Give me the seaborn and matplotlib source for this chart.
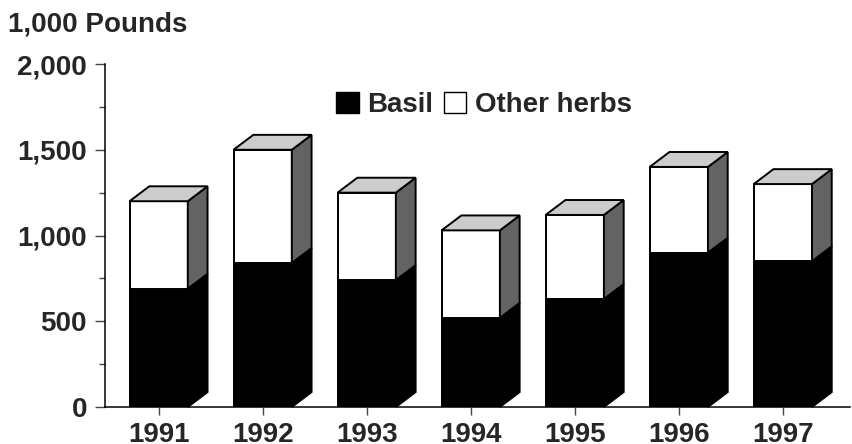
import matplotlib
matplotlib.use("Agg")
import matplotlib.pyplot as plt
import pandas as pd
import seaborn as sns
from matplotlib.patches import Polygon, Patch
from matplotlib.ticker import FuncFormatter, MultipleLocator

# data (1,000 pounds)
years = ["1991", "1992", "1993", "1994", "1995", "1996", "1997"]
basil = [690, 840, 740, 520, 630, 900, 850]
total = [1200, 1500, 1250, 1030, 1120, 1400, 1300]

df = pd.DataFrame({"year": years, "basil": basil, "total": total})

sns.set_style("white")
plt.rcParams["font.family"] = ["Liberation Sans", "DejaVu Sans"]
plt.rcParams["font.weight"] = "bold"

fig = plt.figure(figsize=(8.52, 4.44), dpi=100)
ax = fig.add_axes([0.1232, 0.0833, 0.875, 0.7725])

bw = 0.56
sns.barplot(data=df, x="year", y="total", color="white", edgecolor="black",
            linewidth=1.4, width=bw, errorbar=None, saturation=1, ax=ax)
sns.barplot(data=df, x="year", y="basil", color="black", edgecolor="black",
            linewidth=1.4, width=bw, errorbar=None, saturation=1, ax=ax)

# fake 3d depth
dx, dy = 0.19, 87
for i, bar in enumerate(ax.patches[:len(years)]):
    x0 = bar.get_x()
    x1 = x0 + bar.get_width()
    b, t = basil[i], total[i]
    side_b = Polygon([(x1, 0), (x1 + dx, dy), (x1 + dx, b + dy), (x1, b)],
                     closed=True, fc="black", ec="black", lw=1.4, clip_on=False)
    side_o = Polygon([(x1, b), (x1 + dx, b + dy), (x1 + dx, t + dy), (x1, t)],
                     closed=True, fc="#636363", ec="black", lw=1.4, clip_on=False)
    top = Polygon([(x0, t), (x0 + dx, t + dy), (x1 + dx, t + dy), (x1, t)],
                  closed=True, fc="#cccccc", ec="black", lw=1.4, clip_on=False)
    for p in (side_b, side_o, top):
        ax.add_patch(p)

ax.set_xlim(-0.516, 6.65)
ax.set_ylim(0, 2000)
ax.yaxis.set_major_locator(MultipleLocator(500))
ax.yaxis.set_minor_locator(MultipleLocator(250))
ax.yaxis.set_major_formatter(FuncFormatter(lambda v, p: f"{int(v):,}"))
ax.set_xlabel("")
ax.set_ylabel("")

for s in ["top", "right"]:
    ax.spines[s].set_visible(False)
for s in ["left", "bottom"]:
    ax.spines[s].set_linewidth(1.1)
    ax.spines[s].set_color("black")

ax.tick_params(axis="y", which="major", direction="out", length=7, width=1,
               color="#444444", labelsize=20, pad=6, left=True)
ax.tick_params(axis="y", which="minor", direction="out", length=4, width=1,
               color="#444444", left=True)
ax.tick_params(axis="x", direction="out", length=6, width=1,
               color="#444444", labelsize=20, pad=5, bottom=True)

fig.text(8 / 852, 1 - 24 / 444, "1,000 Pounds", fontsize=20, va="center", ha="left")

handles = [Patch(fc="black", ec="black", label="Basil"),
           Patch(fc="white", ec="black", label="Other herbs")]
ax.legend(handles=handles, loc="center", bbox_to_anchor=(0.568, 0.764),
          bbox_transform=fig.transFigure, ncol=2, frameon=False,
          prop={"size": 20, "weight": "bold"},
          handlelength=0.8, handleheight=0.8, handletextpad=0.3,
          columnspacing=0.4, borderpad=0)

fig.savefig("out.png", dpi=100)
